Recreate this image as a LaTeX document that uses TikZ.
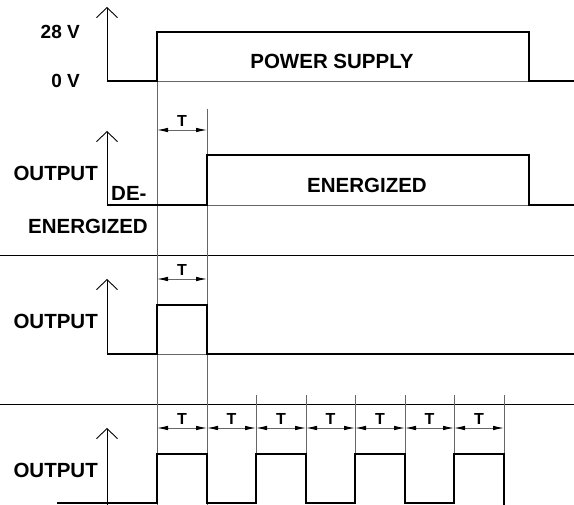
\documentclass[tikz,border=0pt]{standalone}
\usepackage{fontspec}
\setmainfont{Liberation Sans}
\usetikzlibrary{arrows.meta}
\begin{document}
\begin{tikzpicture}[x=1pt,y=-1pt,
  wave/.style={line width=2.8pt,line join=miter,line cap=butt},
  thin/.style={line width=0.9pt,draw=black!60},
  sep/.style={line width=0.9pt,draw=black},
  axis/.style={line width=0.9pt,-{Straight Barb[length=10pt,width=21pt,line width=0.9pt]}},
  dim/.style={line width=0.9pt,draw=black!60,{Latex[length=11pt,width=4.5pt,black]}-{Latex[length=11pt,width=4.5pt,black]}},
  lbl/.style={font=\bfseries\fontsize{20.5}{24}\selectfont,inner sep=0pt},
  vlbl/.style={font=\bfseries\fontsize{19}{22}\selectfont,inner sep=0pt},
  tlbl/.style={font=\bfseries\fontsize{16}{18}\selectfont,inner sep=0pt}]
\useasboundingbox (0,0) rectangle (574,505);
\fill[white] (0,0) rectangle (574,505);
% separators
\draw[sep] (0,255) -- (574,255);
\draw[sep] (0,404) -- (574,404);
% long vertical lines
\draw[thin] (157,81) -- (157,505);
\draw[thin] (207,109) -- (207,505);
% panel 1
\draw[axis] (107,81) -- (107,7);
\draw[thin] (157,81) -- (529,81);
\draw[wave] (107,81) -- (157,81) -- (157,32) -- (529,32) -- (529,81) -- (574,81);
\node[vlbl,anchor=east] (v28) at (80,32) {28 V};
\node[vlbl,anchor=east] (v0) at (80,81) {0 V};
\node[lbl] (ps) at (332,61) {POWER SUPPLY};
% panel 2
\draw[axis] (107,205) -- (107,131);
\draw[dim] (157,130) -- (207,130);
\node[tlbl] (t2) at (182,121) {T};
\draw[thin] (207,205) -- (529,205);
\draw[wave] (107,205) -- (207,205) -- (207,155) -- (529,155) -- (529,205) -- (574,205);
\node[lbl,anchor=east] (o2) at (98,173) {OUTPUT};
\node[lbl,anchor=west] (de) at (111,193) {DE-};
\node[lbl,anchor=east] (en1) at (148,226) {ENERGIZED};
\node[lbl] (en2) at (367,185) {ENERGIZED};
% panel 3
\draw[axis] (107,354) -- (107,279);
\draw[dim] (157,279) -- (207,279);
\node[tlbl] (t3) at (182,270) {T};
\draw[thin] (157,354) -- (207,354);
\draw[wave] (107,354) -- (157,354) -- (157,305) -- (207,305) -- (207,354) -- (574,354);
\node[lbl,anchor=east] (o3) at (98,321) {OUTPUT};
% panel 4
\draw[axis] (107,505) -- (107,428);
\foreach \x in {256,306,355,405,454,504} \draw[thin] (\x,395) -- (\x,503);
\foreach \a/\b in {157/207,207/256,256/306,306/355,355/405,405/454,454/504}{
  \draw[dim] (\a,428) -- (\b,428);
  \node[tlbl] at ({(\a+\b)/2},419) {T};
}
\draw[wave] (57,503) -- (157,503) -- (157,454) -- (207,454) -- (207,503) -- (256,503) -- (256,454) -- (306,454) -- (306,503) -- (355,503) -- (355,454) -- (405,454) -- (405,503) -- (454,503) -- (454,454) -- (504,454) -- (504,505);
\node[lbl,anchor=east] (o4) at (98,470) {OUTPUT};
\end{tikzpicture}
\end{document}
